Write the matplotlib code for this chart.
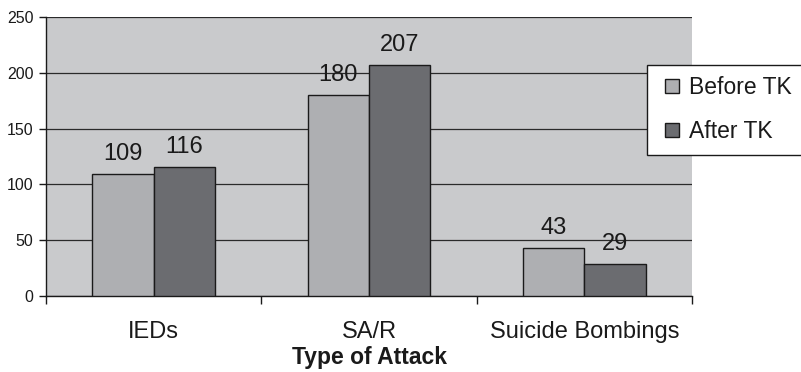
import matplotlib
matplotlib.use("Agg")
import matplotlib.pyplot as plt
import numpy as np
from matplotlib.lines import Line2D
from matplotlib.ticker import FixedLocator, NullFormatter

plt.rcParams["font.family"] = ["Liberation Sans", "DejaVu Sans"]

categories = ["IEDs", "SA/R", "Suicide Bombings"]
before_tk = [109, 180, 43]
after_tk = [116, 207, 29]
series_names = ["Before TK", "After TK"]

BG = "#c9cacc"
BEFORE = "#aeafb2"
AFTER = "#6b6c70"
INK = "#1a1a1a"

fig = plt.figure(figsize=(8.01, 3.72), dpi=100)
ax = fig.add_axes([46 / 801, 1 - 296 / 372, (692 - 46) / 801, (296 - 17) / 372])
ax.set_facecolor(BG)

x = np.arange(len(categories))
w = 0.285
b1 = ax.bar(x - w / 2, before_tk, w, color=BEFORE, edgecolor=INK, linewidth=1.0, zorder=3)
b2 = ax.bar(x + w / 2, after_tk, w, color=AFTER, edgecolor=INK, linewidth=1.0, zorder=3)

for bars in (b1, b2):
    for rect in bars:
        v = rect.get_height()
        ax.text(rect.get_x() + rect.get_width() / 2, v + 8, f"{v:.0f}",
                ha="center", va="bottom", fontsize=17, color=INK)

ax.set_xlim(-0.5, len(categories) - 0.5)
ax.set_ylim(0, 250)
ax.set_yticks(range(0, 251, 50))
ax.yaxis.grid(True, color="#2a2a2a", linewidth=0.9, zorder=1)
ax.set_axisbelow(True)

# category names sit between the boundary ticks
ax.xaxis.set_major_locator(FixedLocator(np.arange(-0.5, len(categories), 1.0)))
ax.xaxis.set_major_formatter(NullFormatter())
ax.xaxis.set_minor_locator(FixedLocator(x))
ax.set_xticklabels(categories, minor=True)
ax.tick_params(axis="x", which="minor", length=0, pad=18, labelsize=17, labelcolor=INK)
ax.tick_params(axis="x", which="major", length=6, width=1, direction="out", color=INK)
ax.tick_params(axis="y", length=5, width=1, direction="out", labelsize=11.5, pad=4,
               color=INK, labelcolor=INK)

for s in ("top", "right"):
    ax.spines[s].set_visible(False)
for s in ("left", "bottom"):
    ax.spines[s].set_color(INK)
    ax.spines[s].set_linewidth(1.0)

ax.set_xlabel("Type of Attack", fontsize=16.5, fontweight="bold", labelpad=2.5, color=INK)

handles = [
    Line2D([], [], linestyle="none", marker="s", markersize=10,
           markerfacecolor=c, markeredgecolor=INK, markeredgewidth=1.0)
    for c in (BEFORE, AFTER)
]
leg = fig.legend(handles=handles, labels=series_names, loc="upper left",
                 bbox_to_anchor=(647 / 801, 1 - 65 / 372), frameon=True,
                 fancybox=False, fontsize=16.5, handlelength=1.2,
                 handletextpad=0.15, labelspacing=0.9, borderpad=0.5,
                 borderaxespad=0, framealpha=1)
leg.get_frame().set_edgecolor(INK)
leg.get_frame().set_linewidth(1.0)
for t in leg.get_texts():
    t.set_color(INK)

fig.savefig("out.png", dpi=100)
